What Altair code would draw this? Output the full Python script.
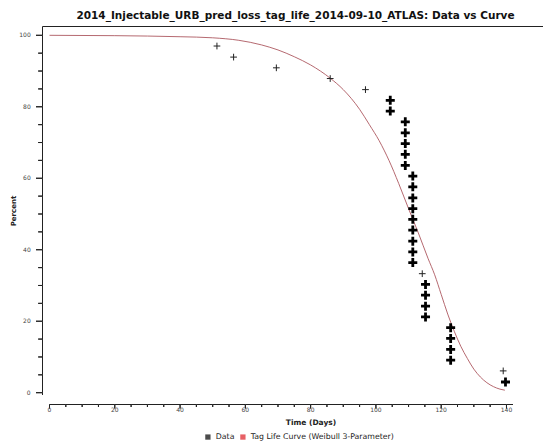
import altair as alt
import pandas as pd

TITLE = "2014_Injectable_URB_pred_loss_tag_life_2014-09-10_ATLAS: Data vs Curve"

# Data points drawn as thin crosses
thin_days = [51.3, 56.4, 69.5, 86.0, 96.8, 114.2, 139.0]
thin_pct = [97.0, 93.9, 90.9, 87.9, 84.8, 33.3, 6.1]

# Data points drawn as bold crosses
bold_days = [104.4, 104.4,
             109.0, 109.0, 109.0, 109.0, 109.0,
             111.3, 111.3, 111.3, 111.3, 111.3, 111.3, 111.3, 111.3, 111.3,
             115.2, 115.2, 115.2, 115.2,
             122.9, 122.9, 122.9, 122.9,
             139.7]
bold_pct = [81.8, 78.8,
            75.8, 72.7, 69.7, 66.7, 63.6,
            60.6, 57.6, 54.5, 51.5, 48.5, 45.5, 42.4, 39.4, 36.4,
            30.3, 27.3, 24.2, 21.2,
            18.2, 15.2, 12.1, 9.1,
            3.0]

# Tag life curve (Weibull 3-parameter)
curve_days = [0, 20, 40, 50, 58, 65, 70, 75, 80, 86, 90, 95, 98, 101, 104, 107,
              110, 113, 116, 118, 120, 122, 124, 126, 128, 130, 132, 134, 136, 138, 139.5]
curve_pct = [100, 99.9, 99.6, 99.3, 98.6, 97.3, 95.9, 94.0, 91.7, 88.0, 84.8, 79.3, 75.0, 70.5, 65.0, 58.5,
             51.5, 44.7, 37.5, 33.0, 27.5, 22.0, 17.2, 13.0, 9.6, 6.6, 4.4, 2.8, 1.7, 1.0, 0.7]

series_names = ["Data", "Tag Life Curve (Weibull 3-Parameter)"]
series_colors = ["#000000", "#dd1c24"]

x_major = [0, 20, 40, 60, 80, 100, 120, 140]
x_minor = [5, 10, 15, 25, 30, 35, 45, 50, 55, 65, 70, 75, 85, 90, 95,
           105, 110, 115, 125, 130, 135]
y_major = [0, 20, 40, 60, 80, 100]
y_minor = [5, 10, 15, 25, 30, 35, 45, 50, 55, 65, 70, 75, 85, 90, 95]

X_TITLE = "Time (Days)"
Y_TITLE = "Percent"

FONT = "DejaVu Sans"
AXIS_COLOR = "#222222"

# Plot area covers the whole drawing (axes, ticks, labels drawn inside it)
PAD_L, PAD_T = 0, 17
W, H = 536, 416
X_RANGE = [41.5, 505.0]     # pixel range of days 0..142
Y_RANGE = [367.7, 10.3]     # pixel range of percent 0..100
X_DOM = [0, 142]
Y_DOM = [0, 100]
XPX = (X_RANGE[1] - X_RANGE[0]) / (X_DOM[1] - X_DOM[0])
YPX = (Y_RANGE[0] - Y_RANGE[1]) / (Y_DOM[1] - Y_DOM[0])

x_scale = alt.Scale(domain=X_DOM, range=X_RANGE, nice=False, zero=False)
y_scale = alt.Scale(domain=Y_DOM, range=Y_RANGE, nice=False, zero=False)

X = lambda f="day:Q": alt.X(f, scale=x_scale, axis=None)
Y = lambda f="pct:Q": alt.Y(f, scale=y_scale, axis=None)

# ---- axis frame (top line, y axis with ticks, x axis with ticks) as one broken path ----
def px_to_day(px):
    return (px - X_RANGE[0]) / XPX

def px_to_pct(py):
    return (Y_RANGE[0] - py) / YPX

y_axis_day = px_to_day(34.5)      # y-axis line, 7 px left of day 0
frame_top = px_to_pct(1.5)        # top frame line
frame_right = px_to_day(W - 1)    # top frame runs to the right edge
y_axis_low = px_to_pct(370.0)     # y-axis line ends a little below 0
x_axis_pct = px_to_pct(379.5)     # x-axis line, offset below the plot

deco_x, deco_y = [frame_right, y_axis_day], [frame_top, frame_top]
for v in sorted(y_major + y_minor, reverse=True):
    tick = (6.5 if v in y_major else 4.3) / XPX
    deco_x += [y_axis_day, y_axis_day - tick, y_axis_day]
    deco_y += [v, v, v]
deco_x += [y_axis_day, None]
deco_y += [y_axis_low, None]
deco_x += [0]
deco_y += [x_axis_pct]
for v in sorted(x_major + x_minor):
    tick = (4.0 if v in x_major else 2.5) / YPX
    deco_x += [v, v, v]
    deco_y += [x_axis_pct, x_axis_pct - tick, x_axis_pct]
deco_x += [X_DOM[1]]
deco_y += [x_axis_pct]
deco_df = pd.DataFrame({"day": deco_x, "pct": deco_y, "seq": list(range(len(deco_x)))})

frame = alt.Chart(deco_df).mark_line(
    color=AXIS_COLOR, strokeWidth=1, interpolate="linear", invalid="break-paths-show-domains"
).encode(x=X(), y=Y(), order="seq:Q")

# ---- tick labels and axis titles as text marks ----
x_labels = alt.Chart(pd.DataFrame({"day": x_major, "lab": [str(v) for v in x_major]})).mark_text(
    font=FONT, fontSize=6, color="#444444", align="center", baseline="middle"
).encode(x=X(), y=alt.value(384.5), text="lab:N")

y_labels = alt.Chart(pd.DataFrame({"pct": y_major, "lab": [str(v) for v in y_major]})).mark_text(
    font=FONT, fontSize=6, color="#444444", align="right", baseline="middle"
).encode(y=Y(), x=alt.value(22.7), text="lab:N")

x_title = alt.Chart(pd.DataFrame({"t": [X_TITLE]})).mark_text(
    font=FONT, fontSize=7.5, fontWeight="bold", color="#222222", align="center", baseline="middle"
).encode(x=alt.value(303), y=alt.value(397.5), text="t:N")

y_title = alt.Chart(pd.DataFrame({"t": [Y_TITLE]})).mark_text(
    font=FONT, fontSize=7, fontWeight="bold", color="#222222", align="center", baseline="middle",
    angle=270,
).encode(x=alt.value(6), y=alt.value(186), text="t:N")

cross_path = "M-1,0H1M0,-1V1"

curve = alt.Chart(pd.DataFrame({"day": curve_days, "pct": curve_pct})).mark_line(
    color="#ad5860", strokeWidth=0.9, interpolate="monotone"
).encode(x=X(), y=Y())

thin = alt.Chart(pd.DataFrame({"day": thin_days, "pct": thin_pct})).mark_point(
    shape=cross_path, size=45, stroke="#222222", strokeWidth=1, filled=False, opacity=1
).encode(x=X(), y=Y())

bold = alt.Chart(pd.DataFrame({"day": bold_days, "pct": bold_pct})).mark_point(
    shape=cross_path, size=81, stroke="#000000", strokeWidth=2.8, filled=False, opacity=1
).encode(x=X(), y=Y())

legend_layer = alt.Chart(pd.DataFrame({"series": series_names})).mark_square(
    size=0, filled=True
).encode(
    fill=alt.Fill(
        "series:N",
        scale=alt.Scale(domain=series_names, range=series_colors),
        legend=alt.Legend(
            orient="none", legendX=196, legendY=408, direction="horizontal", title=None,
            symbolType="square", symbolSize=28, symbolStrokeWidth=0,
            labelFont=FONT, labelFontSize=7.8, labelOffset=4, columnPadding=4,
            labelColor="#222222",
        ),
    )
)

chart = alt.layer(
    curve, frame, thin, bold, x_labels, y_labels, x_title, y_title, legend_layer
).properties(
    width=W,
    height=H,
    title=alt.TitleParams(
        text=TITLE, font=FONT, fontSize=10.5, fontWeight="bold", anchor="middle",
        dx=19.5, offset=3, color="#111111",
    ),
    autosize=alt.AutoSizeParams(type="none"),
    padding={"left": PAD_L, "top": PAD_T, "right": 0, "bottom": 0},
    background="white",
).configure_view(stroke=None)

chart.save("out.html", embed_options={"renderer": "svg", "actions": False})
